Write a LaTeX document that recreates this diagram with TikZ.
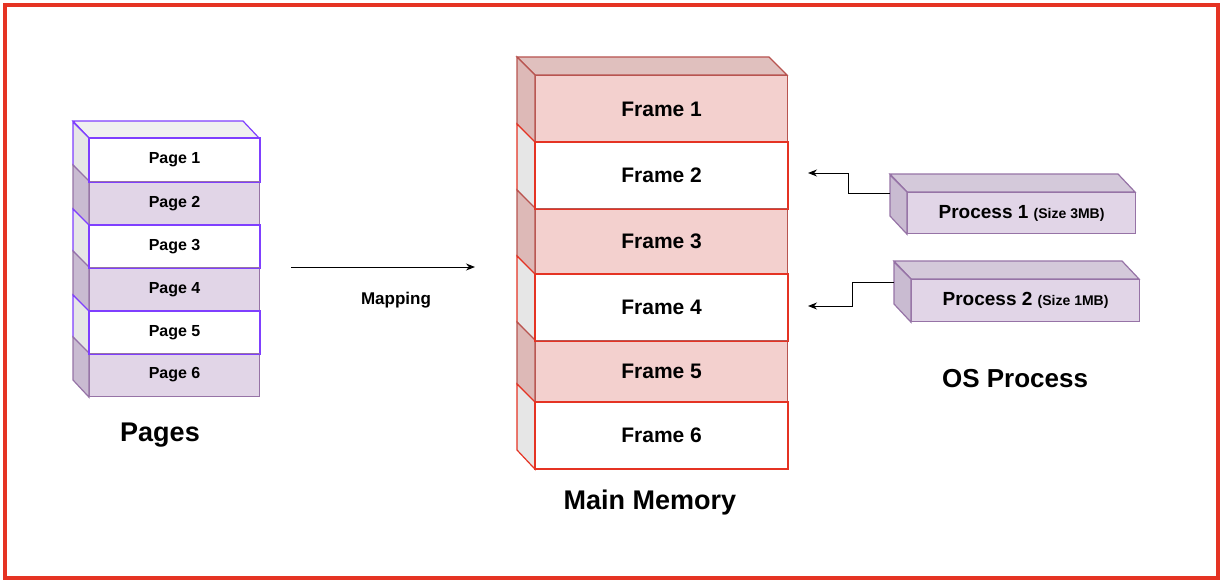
\documentclass[tikz,border=0pt]{standalone}
\usepackage{fontspec}
\setmainfont{Liberation Sans}
\usetikzlibrary{arrows.meta}
\definecolor{lav}{HTML}{E1D5E7}
\definecolor{lavs}{HTML}{9673A6}
\definecolor{lavside}{HTML}{C9BBD1}
\definecolor{purp}{HTML}{7F3FFF}
\definecolor{pink}{HTML}{F3D0CE}
\definecolor{pinks}{HTML}{B85450}
\definecolor{pinkside}{HTML}{DDB9B7}
\definecolor{redl}{HTML}{E53323}
\definecolor{gside}{HTML}{E6E6E6}
\tikzset{
 lbl/.style={font=\bfseries, inner sep=0pt},
 con/.style={-{Stealth[length=9pt,width=7pt]}, line width=1pt},
}
\newcommand{\cube}[9]{% name, x, y, w, h, d, fill, stroke, side
 \node[draw=#8, fill=#7, line width=1.2pt, minimum width=#4pt, minimum height=#5pt, anchor=north west, inner sep=0pt] (#1) at (#2,#3) {};
 \filldraw[fill=#9, draw=#8, line width=1.2pt] (#1.north west) -- ++(-#6pt,#6pt) -- ++(0,-#5pt) -- (#1.south west) -- cycle;
}
\begin{document}
\begin{tikzpicture}[x=1pt,y=-1pt]
\useasboundingbox (0,0) rectangle (1224,586);
\draw[redl, line width=4pt] (5,5) rectangle (1218,578);
% pages
\filldraw[fill=gside!60, draw=purp, line width=1.2pt] (89,138) -- (73,121) -- (243,121) -- (259,138) -- cycle;
\foreach \i/\a/\h/\f/\s/\sd in {1/138/43/white/purp/gside, 2/181/44/lav/lavs/lavside, 3/225/42/white/purp/gside, 4/267/44/lav/lavs/lavside, 5/311/42/white/purp/gside, 6/353/43/lav/lavs/lavside}{
 \cube{p\i}{89}{\a}{170}{\h}{16}{\f}{\s}{\sd}
}
\foreach \i in {1,...,6}{\node[lbl, font=\fontsize{16}{18}\bfseries\selectfont] at (p\i) {Page \i};}
\draw[purp, line width=1.2pt] (p1.north west) rectangle (p1.south east);
\draw[purp, line width=1.2pt] (p3.north west) rectangle (p3.south east);
\draw[purp, line width=1.2pt] (p5.north west) rectangle (p5.south east);
\node[lbl, font=\fontsize{27}{30}\bfseries\selectfont] (tp) at (160,435) {Pages};
% memory
\filldraw[fill=pinkside!90!white, draw=pinks, line width=1.2pt] (535,75) -- (517,57) -- (769,57) -- (787,75) -- cycle;
\foreach \i/\a/\h/\f/\s/\sd in {1/75/67/pink/pinks/pinkside, 2/142/66/white/redl/gside, 3/208/66/pink/pinks/pinkside, 4/274/66/white/redl/gside, 5/340/62/pink/pinks/pinkside, 6/402/66/white/redl/gside}{
 \cube{f\i}{535}{\a}{252}{\h}{18}{\f}{\s}{\sd}
}
\foreach \i in {1,...,6}{\node[lbl, font=\fontsize{21}{24}\bfseries\selectfont] at (f\i) {Frame \i};}
\draw[redl, line width=1.2pt] (f2.north west) rectangle (f2.south east);
\draw[redl, line width=1.2pt] (f4.north west) rectangle (f4.south east);
\draw[redl, line width=1.2pt] (f6.north west) rectangle (f6.south east);
\node[lbl, font=\fontsize{27}{30}\bfseries\selectfont] (tm) at (650,503) {Main Memory};
% processes
\filldraw[fill=lavside!80!white, draw=lavs, line width=1.2pt] (907,192) -- (890,174) -- (1118,174) -- (1135,192) -- cycle;
\cube{q1}{907}{192}{228}{41}{17}{lav}{lavs}{lavside}
\node[lbl] at (q1) {\fontsize{19}{22}\selectfont Process 1 \fontsize{14}{16}\selectfont(Size 3MB)};
\filldraw[fill=lavside!80!white, draw=lavs, line width=1.2pt] (911,279) -- (894,261) -- (1122,261) -- (1139,279) -- cycle;
\cube{q2}{911}{279}{228}{42}{17}{lav}{lavs}{lavside}
\node[lbl] at (q2) {\fontsize{19}{22}\selectfont Process 2 \fontsize{14}{16}\selectfont(Size 1MB)};
\node[lbl, font=\fontsize{26}{30}\bfseries\selectfont] (to) at (1015,379) {OS Process};
\coordinate (a1) at (890,193); \coordinate (b1) at (808,173);
\coordinate (a2) at (894,282); \coordinate (b2) at (808,306);
\draw[con] (a1) -- (848,193) -- (848,173) -- (b1);
\draw[con] (a2) -- (852,282) -- (852,306) -- (b2);
% mapping
\coordinate (m1) at (291,267); \coordinate (m2) at (475,267);
\draw[con] (m1) -- (m2);
\node[lbl, font=\fontsize{17}{20}\bfseries\selectfont] (ml) at (396,300) {Mapping};
\end{tikzpicture}
\end{document}
